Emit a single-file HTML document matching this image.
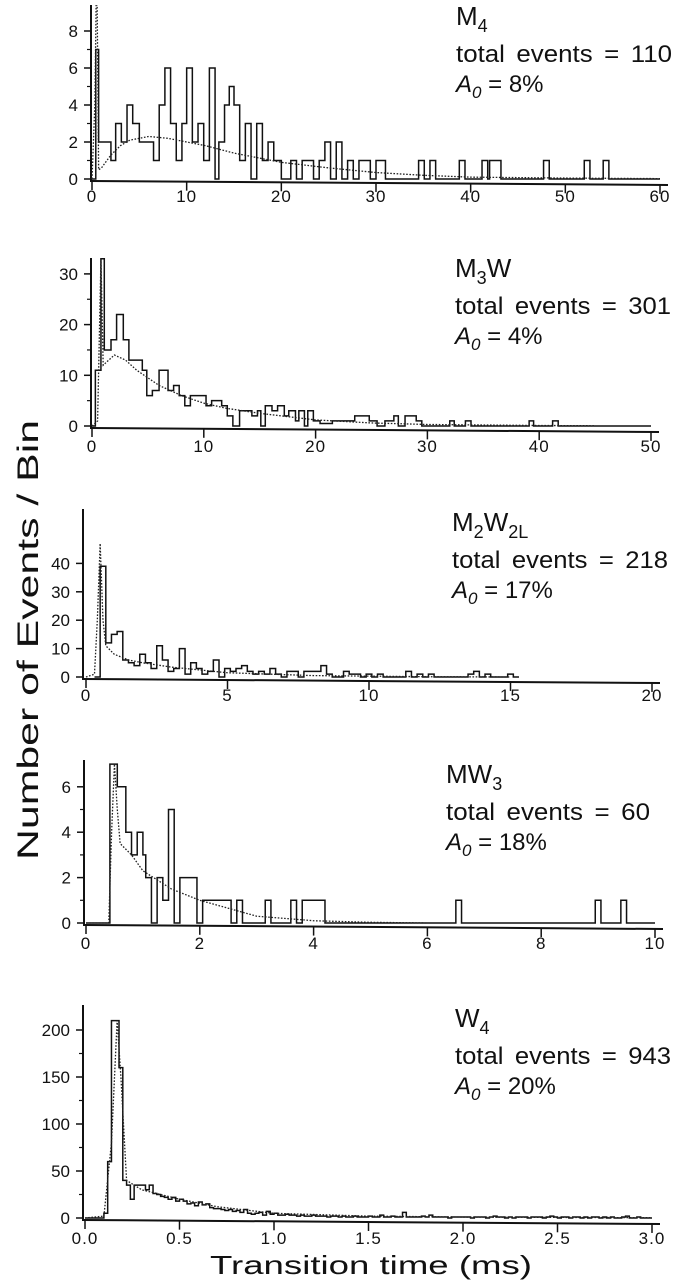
<!DOCTYPE html>
<html><head><meta charset="utf-8"><style>
html,body{margin:0;padding:0;background:#fff}
svg{display:block;font-family:"Liberation Sans",sans-serif}
</style></head><body>
<svg id="fig" width="683" height="1280" viewBox="0 0 683 1280" xmlns="http://www.w3.org/2000/svg">
<rect width="683" height="1280" fill="#fff"/>
<text x="0" y="0" transform="translate(38,640) rotate(-90)" text-anchor="middle" font-size="30" textLength="440" lengthAdjust="spacingAndGlyphs" fill="#111">Number of Events / Bin</text>
<text x="371" y="1274" text-anchor="middle" font-size="26" textLength="322" lengthAdjust="spacingAndGlyphs" fill="#111">Transition time (ms)</text>
</svg>
<script>
// ---- Panel 1: M4 ----
const p1Edges=[0,0.4,0.7,2,2.5,3.1,3.7,4.3,5,6.5,7.1,7.7,8.3,8.9,9.5,10,10.6,11.2,11.8,12.4,13,13.4,14,14.5,15,15.6,16.2,16.8,17.4,18,18.6,19.2,20,21,21.6,22.2,23.4,24,24.6,25.2,25.8,26.4,27,27.6,28.2,29.4,30,31,34.5,35.1,35.7,36.3,38.8,39.4,41.2,41.8,42,43.2,47.7,48.3,52,52.6,54,54.6,60];
const p1Counts=[0,7,2,1,3,2,4,3,2,1,4,6,3,1,3,6,2,3,1,6,0,2,4,5,4,1,3,0,3,1,2,1,0,1,0,1,0,1,2,0,2,0,1,0,1,0,1,0,1,0,1,0,1,0,1,0,1,0,1,0,1,0,1,0];
const p1FitX=[0,0.3,0.5,0.7,1,2,3,4,6,8,10,12,15,18,20,25,30,35,40,50,60];
const p1FitY=[0,4,12,0.5,0.6,1.3,1.8,2.1,2.3,2.2,2.0,1.8,1.4,1.1,0.9,0.6,0.35,0.2,0.1,0.05,0.02];
const p1YTicks=[0,2,4,6,8];
const p1XTicks=[0,10,20,30,40,50,60];
// ---- Panel 2: M3W ----
const p2Edges=[0,0.3,0.8,1.1,1.7,2.2,2.8,3.3,4.5,4.9,5.4,6.0,6.8,7.3,7.8,8.3,8.8,9.3,10.2,10.7,11.6,12.1,12.6,13.2,14.3,14.8,15.1,15.5,16.1,16.6,17.2,17.6,18.2,18.5,19.0,19.3,19.8,20.4,21.5,22.5,23.5,24.8,25.5,26.2,27,27.4,28,29,29.5,32,32.4,33.4,33.9,39.1,39.5,41.2,41.7,50];
const p2Counts=[0,11,33,15,17,22,17,13,11,6,7,11,7,8,6,4,6,6,4,5,4,2,0,3,2,3,0,4,3,4,2,3,1,3,0,3,1,0.5,1,1,2,1,0,1,2,0,2,1,0,1,0,1,0,1,0,1,0];
const p2FitX=[0,0.5,0.8,1,1.5,2,3,4,6,8,10,12,15,20,25,30,40,45];
const p2FitY=[0,1,33,12,13,14,13,11,8,6,4.5,3.5,2.5,1.2,0.6,0.3,0.1,0.05];
const p2YTicks=[0,10,20,30];
const p2XTicks=[0,10,20,30,40,50];
// ---- Panel 3: M2W2L ----
const p3Start=0.3, p3Width=0.2;
const p3Counts=[0,39,12,15,16,6,5,4,8,5,3,11,6,2,3,10,1,5,3,1,2,6,0,3,2,3,4,2,1,2,1,3,1,0,2,2,0,2,2,2,4,1,0,0,2,1,1,0,1,0,1,0,0,0,0,2,0,1,0,1,0,0,0,0,0,0,1,2,0,1,0,0,0,1,0];
const p3FitX=[0,0.3,0.4,0.5,0.6,0.7,1,1.5,2,3,5,8,12,15];
const p3FitY=[0,1,20,47,20,11,8,6,5,3.5,1.5,0.5,0.1,0];
const p3YTicks=[0,10,20,30,40];
const p3XTicks=[0,5,10,15,20];
// ---- Panel 4: MW3 ----
const p4Edges=[0,0.42,0.55,0.7,0.8,0.9,1.0,1.05,1.15,1.25,1.35,1.45,1.55,1.65,1.95,2.05,2.55,2.65,2.75,3.15,3.25,3.6,3.7,3.8,4.2,6.5,6.6,8.95,9.05,9.4,9.5,10];
const p4Counts=[0,7,6,4,3,4,3,2,0,2,1,5,0,2,0,1,0,1,0,1,0,1,0,1,0,1,0,1,0,1,0];
const p4FitX=[0,0.4,0.45,0.5,0.55,0.6,0.8,1,1.5,2,3,4,5,6];
const p4FitY=[0,0,4,7,5,3.5,3,2.3,1.5,1,0.3,0.1,0.03,0];
const p4YTicks=[0,2,4,6];
const p4XTicks=[0,2,4,6,8,10];
// ---- Panel 5: W4 ----
const p5Start=0, p5Width=0.02;
const p5Counts=[0,0,0,0,0,5,60,210,210,160,40,35,20,35,35,35,30,35,26,25,23,22,20,22,18,
20,18,15,16,13,17,14,15,11,10,10,9,8,9,7,8,6,9,5,4,5,6,3,7,4,5,3,3,4,3,
3,2,3,2,2,3,2,2,2,1,2,2,1,2,1,1,2,1,1,1,
2,1,1,3,1,1,2,1,1,6,1,1,1,1,2,1,3,1,1,1,1,0,1,1,1,
1,1,0,1,1,1,0,1,2,1,1,0,1,0,1,1,1,0,1,1,1,0,1,2,1,0,1,1,0,1,1,0,1,0,1,1,0,1,0,1,0,0,1,2,0,0,1,0,0,0];
const p5FitX=[0,0.1,0.14,0.17,0.19,0.22,0.3,0.5,0.7,1,1.5,2,3];
const p5FitY=[0,2,80,210,150,40,30,20,12,5,2,1,0.3];
const p5YTicks=[0,50,100,150,200];
const p5XTicks=[0,0.5,1.0,1.5,2.0,2.5,3.0];

const NS="http://www.w3.org/2000/svg";
const svg=document.getElementById('fig');
function el(tag,attrs,parent){const e=document.createElementNS(NS,tag);for(const k in attrs)e.setAttribute(k,attrs[k]);(parent||svg).appendChild(e);return e;}
function uniformEdges(start,w,n){const a=[];for(let i=0;i<=n;i++)a.push(+(start+i*w).toFixed(4));return a;}

const panels=[
 {id:1,edges:p1Edges,counts:p1Counts,fx:p1FitX,fy:p1FitY,yt:p1YTicks,xt:p1XTicks,ax:91,x0:92,x1:660,xmax:60,y0:179,ppu:18.5,top:5,ly:202,fmt:v=>String(v),minor:true,
  title:['M','4',''],ty:25,total:'110',a0:'8%',tx:456},
 {id:2,edges:p2Edges,counts:p2Counts,fx:p2FitX,fy:p2FitY,yt:p2YTicks,xt:p2XTicks,ax:91,x0:92,x1:651,xmax:50,y0:426,ppu:5.07,top:258,ly:452,fmt:v=>String(v),minor:true,
  title:['M','3','W'],ty:277,total:'301',a0:'4%',tx:455},
 {id:3,edges:uniformEdges(p3Start,p3Width,p3Counts.length),counts:p3Counts,fx:p3FitX,fy:p3FitY,yt:p3YTicks,xt:p3XTicks,ax:83,x0:86,x1:652,xmax:20,y0:677,ppu:2.84,top:509,ly:701,fmt:v=>String(v),minor:false,
  title:['M','2','W','2L'],ty:531,total:'218',a0:'17%',tx:452},
 {id:4,edges:p4Edges,counts:p4Counts,fx:p4FitX,fy:p4FitY,yt:p4YTicks,xt:p4XTicks,ax:84,x0:86,x1:655,xmax:10,y0:923,ppu:22.7,top:760,ly:949,fmt:v=>String(v),minor:true,
  title:['MW','3',''],ty:783,total:'60',a0:'18%',tx:446},
 {id:5,edges:uniformEdges(p5Start,p5Width,p5Counts.length),counts:p5Counts,fx:p5FitX,fy:p5FitY,yt:p5YTicks,xt:p5XTicks,ax:83,x0:85,x1:652,xmax:3,y0:1218,ppu:0.94,top:1005,ly:1244,fmt:v=>v.toFixed(1),minor:true,
  title:['W','4',''],ty:1027,total:'943',a0:'20%',tx:455}
];

panels.forEach(p=>{
  const g=el('g',{});
  
  
  const sx=v=>p.x0+(p.x1-p.x0)*v/p.xmax;
  const sy=v=>p.y0-v*p.ppu;
  const cp=el('clipPath',{id:'clip'+p.id},g);
  el('rect',{x:p.ax,y:p.top,width:683-p.ax,height:p.y0-p.top+4},cp);
  const ya=el('line',{x1:p.ax,y1:p.top,x2:p.ax,y2:p.y0+3,stroke:'#111','stroke-width':2},g);
  
  
  const xa=el('line',{x1:p.ax,y1:p.y0+2,x2:p.x1+8,y2:p.y0+6,stroke:'#111','stroke-width':2},g);
  
  
  p.yt.forEach((v,i)=>{
    el('line',{x1:p.ax-7,y1:sy(v),x2:p.ax,y2:sy(v),stroke:'#111','stroke-width':1.5},g);
    const t=el('text',{x:p.ax-13,y:sy(v)+6,'text-anchor':'end','font-size':17,fill:'#111'},g);
    t.textContent=String(v);
    
    
    if(p.minor&&i<p.yt.length-1){const m=(v+p.yt[i+1])/2;el('line',{x1:p.ax-4,y1:sy(m),x2:p.ax,y2:sy(m),stroke:'#111','stroke-width':1.2},g);}
  });
  p.xt.forEach(v=>{
    const yy=p.y0+2+4*(sx(v)-p.ax)/(p.x1+8-p.ax);
    el('line',{x1:sx(v),y1:yy,x2:sx(v),y2:yy+9,stroke:'#111','stroke-width':1.5},g);
    const t=el('text',{x:sx(v),y:p.ly,'text-anchor':'middle','font-size':17,'letter-spacing':1,fill:'#111'},g);
    t.textContent=p.fmt(v);
    
    
  });
  let d='M'+sx(p.edges[0])+','+sy(0);
  const n=Math.min(p.counts.length,p.edges.length-1);
  for(let i=0;i<n;i++){d+=' L'+sx(p.edges[i])+','+sy(p.counts[i])+' L'+sx(p.edges[i+1])+','+sy(p.counts[i]);}
  const h=el('path',{d:d,fill:'none',stroke:'#111','stroke-width':1.5,'clip-path':'url(#clip'+p.id+')'},g);
  
  
  let fd='';
  p.fx.forEach((x,i)=>{fd+=(i?' L':'M')+sx(x)+','+sy(p.fy[i]);});
  const f=el('path',{d:fd,fill:'none',stroke:'#222','stroke-width':1.3,'stroke-dasharray':'1.6,1.6','clip-path':'url(#clip'+p.id+')'},g);
  
  
  const tt=el('text',{x:p.tx,y:p.ty,'font-size':26,fill:'#111'},g);
  
  
  for(let i=0;i<p.title.length;i++){
    if(!p.title[i])continue;
    const s=el('tspan',{},tt);
    if(i%2===1){s.setAttribute('font-size',18);s.setAttribute('dy',7);}
    else if(i>0){s.setAttribute('dy',-7);}
    s.textContent=p.title[i];
  }
  const te=el('text',{x:p.tx,y:p.ty+37,'font-size':24,fill:'#111','word-spacing':4,textLength:(p.total.length===2?204:216),lengthAdjust:'spacingAndGlyphs'},g);
  te.textContent='total events = '+p.total;
  
  
  const ta=el('text',{x:p.tx,y:p.ty+67,'font-size':24,fill:'#111'},g);
  
  
  const a1=el('tspan',{'font-style':'italic'},ta);a1.textContent='A';
  const a2=el('tspan',{'font-style':'italic','font-size':17,dy:6},ta);a2.textContent='0';
  const a3=el('tspan',{dy:-6},ta);a3.textContent=' = '+p.a0;
});
</script>
</body></html>
